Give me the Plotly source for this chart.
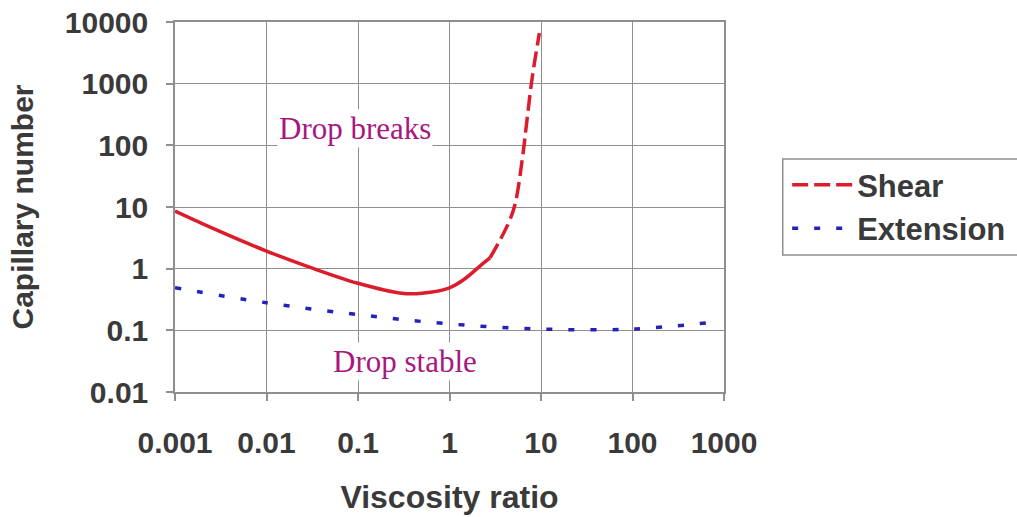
import plotly.graph_objects as go

# Drop breakup: critical capillary number vs viscosity ratio
decades = [0.001, 0.01, 0.1, 1, 10, 100, 1000]
x_tick_text = ["0.001", "0.01", "0.1", "1", "10", "100", "1000"]
ca_levels = [0.01, 0.1, 1, 10, 100, 1000, 10000]
y_tick_text = ["0.01", "0.1", "1", "10", "100", "1000", "10000"]

# Simple shear: smooth low-ratio branch, then the steep rise near ratio ~4
shear_low_x = [0.001, 0.003, 0.01, 0.03, 0.1, 0.3, 0.5, 1, 1.5, 2.15, 2.77]
shear_low_y = [8.6, 4.1, 1.93, 1.05, 0.58, 0.40, 0.40, 0.49, 0.70, 1.1, 1.49]
shear_high_x = [2.77, 4.37, 5.2, 6.2, 7.0, 8.0, 9.6]
shear_high_y = [1.49, 5.3, 11, 55, 245, 1230, 6600]

# Planar extension
ext_x = [0.001, 0.01, 0.1, 1, 10, 100, 740]
ext_y = [0.49, 0.28, 0.18, 0.127, 0.105, 0.105, 0.135]

RED = "#dc1c2c"
BLUE = "#2222bb"
GRID = "#8f8f8f"
TEXT = "#3a3a3a"
LABEL = "#a8177f"
SANS = "Liberation Sans, Arial, sans-serif"
SERIF = "Liberation Serif, Times New Roman, serif"

fig = go.Figure()
fig.add_trace(go.Scatter(
    x=shear_low_x, y=shear_low_y, mode="lines", name="Shear",
    line=dict(color=RED, width=3.5, shape="spline"),
    showlegend=False,
))
fig.add_trace(go.Scatter(
    x=shear_high_x, y=shear_high_y, mode="lines", name="Shear",
    line=dict(color=RED, width=3.5, shape="spline", dash="16px,6px"),
))
fig.add_trace(go.Scatter(
    x=ext_x, y=ext_y, mode="lines", name="Extension",
    line=dict(color=BLUE, width=3.5, shape="spline", dash="6px,16px"),
))

axis_common = dict(
    type="log", showgrid=True, gridcolor=GRID, gridwidth=1,
    showline=True, linecolor=GRID, linewidth=1.5, mirror=True,
    ticks="outside", ticklen=7, tickcolor=GRID, tickwidth=1.5,
    tickfont=dict(family=SANS, size=30, color=TEXT, weight="bold"),
    zeroline=False, automargin=False,
)

fig.update_xaxes(
    range=[-3, 3], tickvals=decades, ticktext=x_tick_text,
    ticklabelstandoff=16,
    title=dict(text="Viscosity ratio", standoff=28,
               font=dict(family=SANS, size=32, color=TEXT, weight="bold")),
    **axis_common,
)
fig.update_yaxes(
    range=[-2, 4], tickvals=ca_levels, ticktext=y_tick_text,
    ticklabelstandoff=12,
    title=dict(text="Capillary number", standoff=22,
               font=dict(family=SANS, size=30, color=TEXT, weight="bold")),
    **axis_common,
)

fig.add_annotation(x=-1.03, y=2.28, xref="x", yref="y", text="Drop breaks",
                   showarrow=False, bgcolor="white",
                   font=dict(family=SERIF, size=31, color=LABEL))
fig.add_annotation(x=-0.49, y=-1.5, xref="x", yref="y", text="Drop stable",
                   showarrow=False, bgcolor="white",
                   font=dict(family=SERIF, size=31, color=LABEL))

# Legend frame, running off the right edge of the page
fig.add_shape(type="rect", xref="paper", yref="paper",
              x0=1.107, x1=1.7, y0=0.370, y1=0.630,
              line=dict(color=GRID, width=1.5), fillcolor="white", layer="below")

fig.update_layout(
    width=1017, height=517,
    margin=dict(l=175, r=293, t=22, b=125),
    paper_bgcolor="white", plot_bgcolor="white",
    showlegend=True,
    legend=dict(xref="container", yref="container",
                x=0.774, y=0.694, xanchor="left", yanchor="top",
                bgcolor="rgba(0,0,0,0)", borderwidth=0, itemwidth=60,
                tracegroupgap=0,
                font=dict(family=SANS, size=31, color=TEXT, weight="bold")),
)

fig.write_html("out.html")
